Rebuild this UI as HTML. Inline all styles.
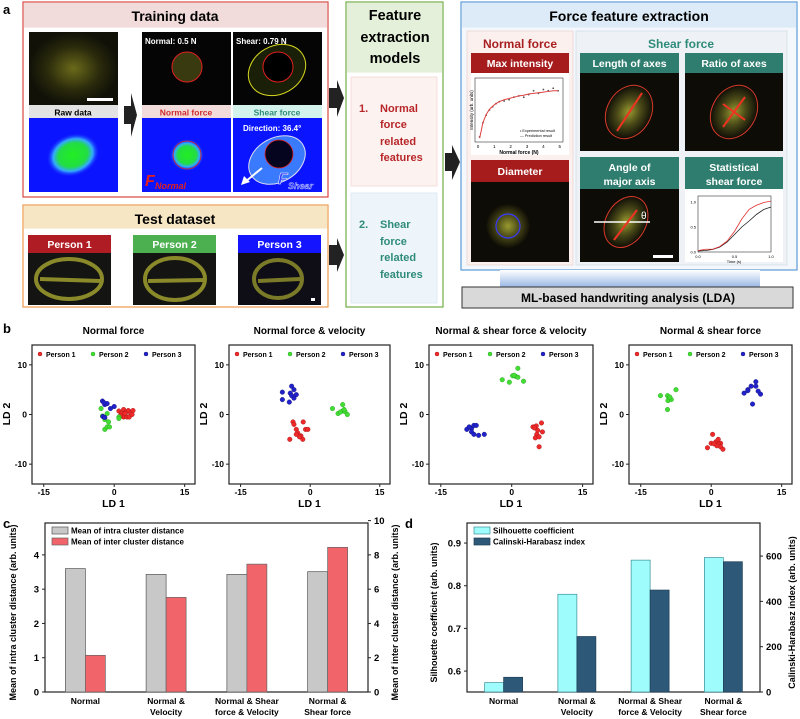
<!DOCTYPE html>
<html><head><meta charset="utf-8"><style>
html,body{margin:0;padding:0;background:#fff;}
svg{display:block;font-family:"Liberation Sans",sans-serif;}
.b{font-weight:bold;}
</style></head><body>
<svg id="fig" width="800" height="719" viewBox="0 0 800 719" xmlns="http://www.w3.org/2000/svg">
<defs>
<radialGradient id="glowY" cx="50%" cy="50%" r="50%"><stop offset="0" stop-color="#6b6a1a"/><stop offset="0.6" stop-color="#2a2a0c"/><stop offset="1" stop-color="#111108"/></radialGradient>
<radialGradient id="glowY2" cx="50%" cy="50%" r="50%"><stop offset="0" stop-color="#9a9a30"/><stop offset="0.5" stop-color="#4a4a18"/><stop offset="1" stop-color="#100e06"/></radialGradient>
<radialGradient id="blueG" cx="50%" cy="50%" r="50%"><stop offset="0" stop-color="#22ee22"/><stop offset="0.55" stop-color="#22dd44"/><stop offset="0.75" stop-color="#33aaff"/><stop offset="1" stop-color="#1020ff" stop-opacity="0"/></radialGradient>
<linearGradient id="mlG" x1="0" y1="0" x2="0" y2="1"><stop offset="0" stop-color="#ffffff"/><stop offset="1" stop-color="#9ab8e6"/></linearGradient>
</defs>

<!-- PANEL A -->
<text x="3" y="14" class="b" font-size="13">a</text>
<g>
<rect x="23" y="2" width="305" height="195" fill="#fff" stroke="#d9463f" stroke-width="1.2"/>
<rect x="23.6" y="2.6" width="303.8" height="25" fill="#f2dcdb"/>
<text x="175" y="21" text-anchor="middle" class="b" font-size="14">Training data</text>
<rect x="29" y="32" width="89" height="73" fill="url(#glowY)"/>
<rect x="87" y="98" width="26" height="3" fill="#fff"/>
<rect x="29" y="105" width="89" height="13" fill="#e3e3e3"/>
<text x="73" y="115.5" text-anchor="middle" class="b" font-size="8.5">Raw data</text>
<rect x="29" y="118" width="89" height="74" fill="#0b14ff"/>
<ellipse cx="73" cy="155" rx="27" ry="21" fill="url(#blueG)" transform="rotate(-20 73 155)"/>
<polygon points="124,106 131,106 131,93 137,115 131,137 131,124 124,124" fill="#222"/>
<rect x="142" y="32" width="89" height="73" fill="#050505"/>
<circle cx="187" cy="67" r="15" fill="#3a3a10" stroke="#e02020" stroke-width="1"/>
<text x="145" y="44" fill="#fff" class="b" font-size="8">Normal: 0.5 N</text>
<rect x="142" y="105" width="89" height="13" fill="#f2dcdb"/>
<text x="186" y="115.5" text-anchor="middle" class="b" font-size="8.5" fill="#d02a2a">Normal force</text>
<rect x="142" y="118" width="89" height="74" fill="#0b14ff"/>
<ellipse cx="187" cy="155" rx="17" ry="16" fill="url(#blueG)"/>
<circle cx="187" cy="155" r="14" fill="none" stroke="#e02020" stroke-width="0.8"/>
<text x="145" y="186" fill="#e02020" font-style="italic" class="b" font-size="16">F</text>
<text x="155" y="189" fill="#e02020" font-style="italic" class="b" font-size="9">Normal</text>
<rect x="233" y="32" width="89" height="73" fill="#050505"/>
<ellipse cx="277" cy="70" rx="30" ry="24" fill="#1a1f08" stroke="#d8d820" stroke-width="1" transform="rotate(-30 277 70)"/>
<circle cx="278" cy="67" r="15" fill="#000" stroke="#e02020" stroke-width="1"/>
<text x="236" y="44" fill="#fff" class="b" font-size="8">Shear: 0.79 N</text>
<rect x="233" y="105" width="89" height="13" fill="#d3f3ec"/>
<text x="277" y="115.5" text-anchor="middle" class="b" font-size="8.5" fill="#2e8b7a">Shear force</text>
<rect x="233" y="118" width="89" height="74" fill="#0b14ff"/>
<ellipse cx="277" cy="160" rx="30" ry="22" fill="#3a7aff" stroke="#dde" stroke-width="1" transform="rotate(-30 277 160)"/>
<circle cx="279" cy="154" r="14" fill="#050520" stroke="#e02020" stroke-width="0.8"/>
<line x1="262" y1="168" x2="245" y2="182" stroke="#fff" stroke-width="2"/>
<polygon points="241,185 244,176 250,182" fill="#fff"/>
<text x="243" y="131" fill="#fff" class="b" font-size="8">Direction: 36.4°</text>
<text x="278" y="184" fill="#3040ff" stroke="#fff" stroke-width="0.5" font-style="italic" class="b" font-size="16">F</text>
<text x="288" y="189" fill="#3040ff" stroke="#fff" stroke-width="0.3" font-style="italic" class="b" font-size="9">Shear</text>
</g>

<g>
<rect x="23" y="205" width="305" height="102" fill="#fff" stroke="#ee9a50" stroke-width="1.2"/>
<rect x="23.6" y="205.6" width="303.8" height="23" fill="#f6e6c3"/>
<text x="175" y="224" text-anchor="middle" class="b" font-size="14">Test dataset</text>
<rect x="28" y="235" width="83" height="18" fill="#b01c24"/>
<text x="69.5" y="248" text-anchor="middle" fill="#fff" class="b" font-size="10.5">Person 1</text>
<rect x="28" y="253" width="83" height="52" fill="#141412"/>
<ellipse cx="69" cy="279" rx="33" ry="20" fill="none" stroke="#8a8a2a" stroke-width="4"/>
<line x1="40" y1="279" x2="100" y2="281" stroke="#8a8a2a" stroke-width="4"/>
<rect x="133" y="235" width="83" height="18" fill="#4caf50"/>
<text x="174.5" y="248" text-anchor="middle" fill="#fff" class="b" font-size="10.5">Person 2</text>
<rect x="133" y="253" width="83" height="52" fill="#141412"/>
<ellipse cx="175" cy="279" rx="30" ry="21" fill="none" stroke="#8a8a2a" stroke-width="4"/>
<line x1="148" y1="281" x2="205" y2="280" stroke="#8a8a2a" stroke-width="4"/>
<rect x="238" y="235" width="83" height="18" fill="#1414ff"/>
<text x="279.5" y="248" text-anchor="middle" fill="#fff" class="b" font-size="10.5">Person 3</text>
<rect x="238" y="253" width="83" height="52" fill="#0f0e16"/>
<ellipse cx="278" cy="279" rx="24" ry="19" fill="none" stroke="#7a7a28" stroke-width="4"/>
<line x1="258" y1="281" x2="300" y2="279" stroke="#7a7a28" stroke-width="4"/>
<rect x="311" y="298" width="4" height="3" fill="#fff"/>
</g>
<polygon points="329,88 337,88 337,80 344,98 337,117 337,108 329,108" fill="#222"/>
<polygon points="329,245 337,245 337,238 344,255 337,272 337,265 329,265" fill="#222"/>

<g>
<rect x="346" y="2" width="97" height="305" fill="#fff" stroke="#70ad47" stroke-width="1.2"/>
<rect x="346.6" y="2.6" width="95.8" height="70" fill="#e4f0d9"/>
<text x="395" y="20" text-anchor="middle" class="b" font-size="14.5">Feature</text>
<text x="395" y="42" text-anchor="middle" class="b" font-size="14.5">extraction</text>
<text x="395" y="63" text-anchor="middle" class="b" font-size="14.5">models</text>
<rect x="351" y="77" width="86" height="109" fill="#fcf3f0" stroke="#f2d8d4" stroke-width="0.8"/>
<g fill="#b8262a" class="b" font-size="11"><text x="359" y="112">1.</text><text x="380" y="112">Normal</text><text x="380" y="128">force</text><text x="380" y="145">related</text><text x="380" y="161">features</text></g>
<rect x="351" y="193" width="86" height="110" fill="#eef5fa" stroke="#d8e6f0" stroke-width="0.8"/>
<g fill="#2e8b7a" class="b" font-size="11"><text x="359" y="228">2.</text><text x="380" y="228">Shear</text><text x="380" y="245">force</text><text x="380" y="261">related</text><text x="380" y="278">features</text></g>
</g>
<polygon points="445,153 452,153 452,145 460,162 452,180 452,171 445,171" fill="#222"/>

<g>
<rect x="461" y="2" width="336" height="268" fill="#f4f8fc" stroke="#5b9bd5" stroke-width="1.2"/>
<rect x="461.6" y="2.6" width="334.8" height="25" fill="#dcebf7"/>
<text x="629" y="21" text-anchor="middle" class="b" font-size="14">Force feature extraction</text>
<rect x="467" y="31" width="106" height="234" fill="#fbf0ee" stroke="#ecd4d0" stroke-width="0.8"/>
<text x="520" y="48" text-anchor="middle" class="b" font-size="12" fill="#a81f1f">Normal force</text>
<rect x="471" y="53" width="98" height="20" fill="#a61c1c"/>
<text x="520" y="67" text-anchor="middle" class="b" font-size="10.5" fill="#fff">Max intensity</text>
<rect x="471" y="73" width="98" height="82" fill="#fff"/>
<g id="insetNormal"></g>
<rect x="471" y="160" width="98" height="22" fill="#a61c1c"/>
<text x="520" y="175" text-anchor="middle" class="b" font-size="10.5" fill="#fff">Diameter</text>
<rect x="471" y="182" width="98" height="80" fill="#0e0c06"/>
<circle cx="508" cy="226" r="22" fill="url(#glowY2)"/>
<circle cx="508" cy="226" r="12" fill="none" stroke="#3a3aff" stroke-width="1.2"/>
<rect x="576" y="31" width="211" height="234" fill="#eef2f6" stroke="#d0dce8" stroke-width="0.8"/>
<text x="681" y="48" text-anchor="middle" class="b" font-size="12" fill="#2e8b7a">Shear force</text>
<rect x="580" y="53" width="99" height="20" fill="#2e7d6e"/>
<text x="629.5" y="67" text-anchor="middle" class="b" font-size="10.5" fill="#fff">Length of axes</text>
<rect x="580" y="73" width="99" height="78" fill="#0e0c06"/>
<ellipse cx="629" cy="112" rx="22" ry="28" fill="url(#glowY2)" stroke="#d83a2a" stroke-width="1" transform="rotate(30 629 112)"/>
<line x1="617" y1="131" x2="642" y2="93" stroke="#ee3322" stroke-width="2"/>
<rect x="685" y="53" width="98" height="20" fill="#2e7d6e"/>
<text x="734" y="67" text-anchor="middle" class="b" font-size="10.5" fill="#fff">Ratio of axes</text>
<rect x="685" y="73" width="98" height="78" fill="#0e0c06"/>
<ellipse cx="734" cy="112" rx="22" ry="28" fill="url(#glowY2)" stroke="#d83a2a" stroke-width="1" transform="rotate(30 734 112)"/>
<line x1="723" y1="127" x2="745" y2="97" stroke="#ee3322" stroke-width="2"/>
<line x1="723" y1="104" x2="745" y2="120" stroke="#ee3322" stroke-width="2"/>
<rect x="580" y="157" width="99" height="32" fill="#2e7d6e"/>
<text x="629.5" y="171" text-anchor="middle" class="b" font-size="10.5" fill="#fff">Angle of</text>
<text x="629.5" y="185" text-anchor="middle" class="b" font-size="10.5" fill="#fff">major axis</text>
<rect x="580" y="189" width="99" height="73" fill="#0e0c06"/>
<ellipse cx="626" cy="222" rx="20" ry="27" fill="url(#glowY2)" stroke="#d83a2a" stroke-width="1" transform="rotate(30 626 222)"/>
<line x1="594" y1="222" x2="650" y2="222" stroke="#fff" stroke-width="1.5"/>
<line x1="614" y1="240" x2="637" y2="210" stroke="#ee3322" stroke-width="2"/>
<text x="641" y="219" fill="#fff" font-size="10">θ</text>
<rect x="653" y="255" width="20" height="3" fill="#fff"/>
<rect x="685" y="157" width="98" height="32" fill="#2e7d6e"/>
<text x="734" y="171" text-anchor="middle" class="b" font-size="10.5" fill="#fff">Statistical</text>
<text x="734" y="185" text-anchor="middle" class="b" font-size="10.5" fill="#fff">shear force</text>
<rect x="685" y="189" width="98" height="73" fill="#fff"/>
<g id="insetShear"></g>
</g>
<rect x="500" y="270" width="260" height="17" fill="url(#mlG)"/>
<g>
<rect x="462" y="287" width="331" height="21" fill="#d9d9d9" stroke="#333" stroke-width="1"/>
<text x="628" y="302" text-anchor="middle" class="b" font-size="12">ML-based handwriting analysis (LDA)</text>
</g>

<!-- PANEL B -->
<text x="3" y="333" class="b" font-size="13">b</text>
<g id="panelB"></g>
<!-- PANEL C -->
<text x="3" y="528" class="b" font-size="13">c</text>
<g id="panelC"></g>
<!-- PANEL D -->
<text x="405" y="528" class="b" font-size="13">d</text>
<g id="panelD"></g>
</svg>
<script>
// ---------- data: panel b ----------
const plotTitles = ["Normal force","Normal force & velocity","Normal & shear force & velocity","Normal & shear force"];
const personNames = ["Person 1","Person 2","Person 3"];
const ldTicksX = [-15,0,15];
const ldTicksY = [-10,0,10];
const p1Red = [[1,0.7],[1.5,0.2],[2,1],[2.5,0.5],[3,0.8],[3.5,0.3],[4,0.8],[2,-0.5],[2.7,-0.5],[3.2,-0.5],[1.3,-0.3],[3.8,0],[2.3,0.2]];
const p1Green = [[-2.8,1.2],[-1.5,0.2],[-2,-1],[-1.2,-1.5],[-2,-3],[-1.5,-2.5],[-1,-2.5],[1,-0.5],[1,-0.8],[-2.5,-0.3]];
const p1Blue = [[-2.5,2.7],[-2,2],[-1.5,2.2],[-0.8,1.2],[0,1.6],[-2.4,-0.4],[-2,-0.6],[-2.2,2.4]];
const p2Red = [[-3.7,-1.5],[-3.5,-2],[-1.5,-1.5],[-3,-3],[-2.7,-3.7],[-3,-4],[-2,-4.3],[-1.6,-5],[-4.4,-5],[-1,-3],[-0.5,-3],[-2.3,-4.5]];
const p2Green = [[4.8,1.2],[6,0.2],[7,2],[7,0.7],[7.5,0.6],[8,0],[6.5,0.5],[7.3,1]];
const p2Blue = [[-6,4.5],[-4,5.7],[-3.5,5],[-4.3,4.3],[-3,4],[-6,3],[-3.5,3.3],[-4.5,2.5],[-4,3.8]];
const p3Red = [[4.5,-2.5],[5.2,-2.3],[6.3,-1.7],[5.5,-3.2],[6.5,-3.5],[5.3,-4],[5,-4.7],[5.8,-4.5],[5.8,-6.5],[4.8,-2.7]];
const p3Green = [[-2,7],[-0.5,6.5],[0.2,7.8],[0.8,7.7],[1.3,7.5],[1.3,9.3],[2.5,6.7],[0.5,7.9]];
const p3Blue = [[-9.5,-3],[-8.5,-2.8],[-8,-2.2],[-8.5,-3.5],[-8,-4],[-7,-4.2],[-5.8,-4],[-7.5,-2.2],[-9,-2.5]];
const p4Red = [[0.3,-4],[-0.8,-6.7],[0,-5.8],[1,-5.5],[1.5,-5],[2,-5.8],[1.5,-6],[2,-6.5],[2.5,-7],[1.2,-6.3],[0.6,-5.9]];
const p4Green = [[-10.8,3.8],[-9.3,3.8],[-9,3.3],[-9.2,2.8],[-8.5,3],[-7.5,5],[-9.3,1],[-8.8,3.5]];
const p4Blue = [[7,4.3],[7.8,5],[8.5,5.7],[9.5,6.6],[9.5,5.7],[10,4.7],[10.5,4.1],[8.8,2.1],[7.8,4.8]];
// ---------- data: panel c ----------
const groupLabels = [["Normal"],["Normal &","Velocity"],["Normal & Shear","force & Velocity"],["Normal &","Shear force"]];
const intraValues = [3.6,3.43,3.43,3.51];
const interValues = [2.14,5.52,7.46,8.44];
const cLeftTicks = [0,1,2,3,4];
const cRightTicks = [0,2,4,6,8,10];
// ---------- data: panel d ----------
const silhouetteValues = [0.573,0.78,0.86,0.866];
const chValues = [65,245,450,575];
const dLeftTicks = [0.6,0.7,0.8,0.9];
const dRightTicks = [0,200,400,600];
// ---------- data: insets ----------
const insetForce = [0.1,0.3,0.5,0.7,0.9,1.1,1.3,1.6,1.9,2.2,2.5,2.8,3.1,3.4,3.7,4,4.3,4.6,4.9];
const insetIntensity = [0.08,0.3,0.42,0.5,0.55,0.6,0.63,0.64,0.66,0.7,0.72,0.7,0.74,0.8,0.76,0.82,0.8,0.84,0.8];
const insetPred = [0.06,0.3,0.43,0.51,0.56,0.6,0.63,0.66,0.68,0.7,0.72,0.73,0.75,0.76,0.77,0.78,0.79,0.8,0.8];
const shearTime = [0,0.1,0.2,0.3,0.4,0.5,0.6,0.7,0.8,0.9,1];
const shearForce = [0.02,0.03,0.05,0.1,0.2,0.35,0.5,0.62,0.75,0.85,0.9];
const shearDisp = [0.01,0.02,0.02,0.04,0.08,0.15,0.24,0.31,0.34,0.36,0.37];

const NS="http://www.w3.org/2000/svg";
function mk(parent,tag,attrs,text){const e=document.createElementNS(NS,tag);for(const k in attrs)e.setAttribute(k,attrs[k]);if(text!==undefined)e.textContent=text;parent.appendChild(e);return e;}
function lin(d0,d1,r0,r1){return v=>r0+(v-d0)*(r1-r0)/(d1-d0);}

// ---------- insets ----------
(function(){
  const g=document.getElementById('insetNormal');
  const x=lin(0,5.2,478,563), y=lin(0,1,142,78);
  mk(g,'rect',{x:475,y:78,width:88,height:64,fill:'none',stroke:'#333','stroke-width':0.6});
  insetForce.forEach((f,i)=>{const c=mk(g,'circle',{cx:x(f),cy:y(insetIntensity[i]),r:0.9,fill:'#555'});
    
    });
  const pl=mk(g,'polyline',{points:insetForce.map((f,i)=>x(f)+','+y(insetPred[i])).join(' '),fill:'none',stroke:'#e04040','stroke-width':1});
  
  
  [0,1,2,3,4,5].forEach(t=>mk(g,'text',{x:x(t),y:148,'font-size':4.5,'text-anchor':'middle'},t));
  mk(g,'text',{x:519,y:154,'font-size':5,'text-anchor':'middle','font-weight':'bold'},'Normal force (N)');
  mk(g,'text',{x:473,y:110,'font-size':4.5,'text-anchor':'middle',transform:'rotate(-90 473 110)'},'Intensity (arb. units)');
  mk(g,'text',{x:520,y:132,'font-size':3.8},'• Experimental result');
  mk(g,'text',{x:520,y:137,'font-size':3.8},'— Prediction result');
  const g2=document.getElementById('insetShear');
  const sx=lin(0,1,698,771), sy=lin(0,1.1,252,197), sy2=lin(0,0.4,252,197);
  mk(g2,'rect',{x:698,y:196,width:73,height:56,fill:'none',stroke:'#333','stroke-width':0.6});
  const l1=mk(g2,'polyline',{points:shearTime.map((t,i)=>sx(t)+','+sy(shearForce[i])).join(' '),fill:'none',stroke:'#222','stroke-width':0.8});
  
  
  const l2=mk(g2,'polyline',{points:shearTime.map((t,i)=>sx(t)+','+sy2(shearDisp[i])).join(' '),fill:'none',stroke:'#e03030','stroke-width':0.8});
  
  
  [[0,'0.0'],[0.5,'0.5'],[1,'1.0']].forEach(t=>{mk(g2,'text',{x:sx(t[0]),y:258,'font-size':4,'text-anchor':'middle'},t[1]);mk(g2,'text',{x:696,y:sy(t[0])+1.5,'font-size':4,'text-anchor':'end'},t[1]);});
  mk(g2,'text',{x:734,y:263,'font-size':4,'text-anchor':'middle'},'Time (s)');
})();

// ---------- panel b ----------
(function(){
  const g=document.getElementById('panelB');
  const frames=[[32,195],[229,390],[429,593],[629,792]];
  const sets=[[p1Red,p1Green,p1Blue],[p2Red,p2Green,p2Blue],[p3Red,p3Green,p3Blue],[p4Red,p4Green,p4Blue]];
  const fills=['#ee2a2a','#44dd33','#2222cc'], strokes=['#a01010','#20a020','#101070'];
  frames.forEach((f,pi)=>{
    const pg=mk(g,'g',{});
    
    
    const x=lin(-17.5,17.2,f[0],f[1]), y=lin(-14,14,484,345);
    mk(pg,'text',{x:(f[0]+f[1])/2,y:334,'text-anchor':'middle','font-weight':'bold','font-size':10},plotTitles[pi]);
    mk(pg,'rect',{x:f[0],y:345,width:f[1]-f[0],height:139,fill:'#fff',stroke:'#222','stroke-width':1.2});
    ldTicksX.forEach(t=>{mk(pg,'line',{x1:x(t),x2:x(t),y1:484,y2:487,stroke:'#222'});mk(pg,'text',{x:x(t),y:495,'text-anchor':'middle','font-weight':'bold','font-size':8.5},t);});
    ldTicksY.forEach(t=>{mk(pg,'line',{x1:f[0]-3,x2:f[0],y1:y(t),y2:y(t),stroke:'#222'});mk(pg,'text',{x:f[0]-5,y:y(t)+3,'text-anchor':'end','font-weight':'bold','font-size':8.5},t);});
    mk(pg,'text',{x:(f[0]+f[1])/2,y:507,'text-anchor':'middle','font-weight':'bold','font-size':10.5},'LD 1');
    mk(pg,'text',{x:f[0]-22,y:414,'text-anchor':'middle','font-weight':'bold','font-size':10.5,transform:'rotate(-90 '+(f[0]-22)+' 414)'},'LD 2');
    personNames.forEach((n,k)=>{const lx=f[0]+8+k*53;
      mk(pg,'circle',{cx:lx,cy:354,r:2,fill:fills[k],stroke:strokes[k],'stroke-width':0.4});
      mk(pg,'text',{x:lx+6,y:357,'font-weight':'bold','font-size':7},n);});
    sets[pi].forEach((pts,k)=>pts.forEach(p=>{
      const c=mk(pg,'circle',{cx:x(p[0]),cy:y(p[1]),r:2.3,fill:fills[k],stroke:strokes[k],'stroke-width':0.4});
      
      
    }));
  });
})();

// ---------- grouped bar helper ----------
function barChart(gid,opt){
  const g=document.getElementById(gid);
  const L=opt.L,R=opt.R,T=523,B=692;
  const yL=lin(opt.lmin,opt.lmax,B,T), yR=lin(opt.rmin,opt.rmax,B,T);
  const gw=(R-L)/4;
  mk(g,'rect',{x:L,y:T,width:R-L,height:B-T,fill:'#fff',stroke:'#222','stroke-width':1.2});
  opt.lt.forEach(t=>{mk(g,'line',{x1:L-3,x2:L,y1:yL(t),y2:yL(t),stroke:'#222'});mk(g,'text',{x:L-6,y:yL(t)+3.5,'text-anchor':'end','font-weight':'bold','font-size':9.5},opt.lfmt(t));});
  opt.rt.forEach(t=>{mk(g,'line',{x1:R,x2:R+3,y1:yR(t),y2:yR(t),stroke:'#222'});mk(g,'text',{x:R+6,y:yR(t)+3.5,'font-weight':'bold','font-size':9.5},t);});
  groupLabels.forEach((lab,i)=>{const cx=L+gw*(i+0.5);
    lab.forEach((s,j)=>mk(g,'text',{x:cx,y:704+j*11,'text-anchor':'middle','font-weight':'bold','font-size':8.5},s));
    const b1=mk(g,'rect',{x:cx-opt.bw,y:yL(opt.a[i]),width:opt.bw,height:B-yL(opt.a[i]),fill:opt.c1,stroke:opt.s1,'stroke-width':0.7});
    
    
    const b2=mk(g,'rect',{x:cx,y:yR(opt.b[i]),width:opt.bw,height:B-yR(opt.b[i]),fill:opt.c2,stroke:opt.s2,'stroke-width':0.7});
    
    
  });
  [[opt.c1,opt.s1,opt.l1],[opt.c2,opt.s2,opt.l2]].forEach((e,k)=>{
    mk(g,'rect',{x:L+7,y:T+4+k*11,width:16,height:7,fill:e[0],stroke:e[1],'stroke-width':0.7});
    mk(g,'text',{x:L+26,y:T+10.5+k*11,'font-weight':'bold','font-size':8},e[2]);});
  const ym=(T+B)/2+5;
  mk(g,'text',{x:opt.lax,y:ym,'text-anchor':'middle','font-weight':'bold','font-size':9,transform:'rotate(-90 '+opt.lax+' '+ym+')'},opt.ll);
  mk(g,'text',{x:opt.rax,y:ym,'text-anchor':'middle','font-weight':'bold','font-size':9,transform:'rotate(-90 '+opt.rax+' '+ym+')'},opt.rl);
}
barChart('panelC',{L:45,R:368,lmin:0,lmax:4.93,rmin:0,rmax:9.86,bw:20,a:intraValues,b:interValues,lt:cLeftTicks,rt:cRightTicks,lfmt:t=>t,
  c1:'#c8c8c8',s1:'#555',c2:'#f0646a',s2:'#666',n1:'intra',n2:'inter',l1:'Mean of intra cluster distance',l2:'Mean of inter cluster distance',
  lax:16,rax:398,ll:'Mean of intra cluster distance (arb. units)',rl:'Mean of inter cluster distance (arb. units)'});
barChart('panelD',{L:467,R:760,lmin:0.551,lmax:0.947,rmin:0,rmax:746,bw:19,a:silhouetteValues,b:chValues,lt:dLeftTicks,rt:dRightTicks,lfmt:t=>t.toFixed(1),
  c1:'#9ffcfc',s1:'#3a8f9a',c2:'#2d5877',s2:'#1e3f58',n1:'silhouette',n2:'calinski-harabasz',l1:'Silhouette coefficient',l2:'Calinski-Harabasz index',
  lax:437,rax:795,ll:'Silhouette coefficient (arb. units)',rl:'Calinski-Harabasz index (arb. units)'});
</script>
</body></html>
